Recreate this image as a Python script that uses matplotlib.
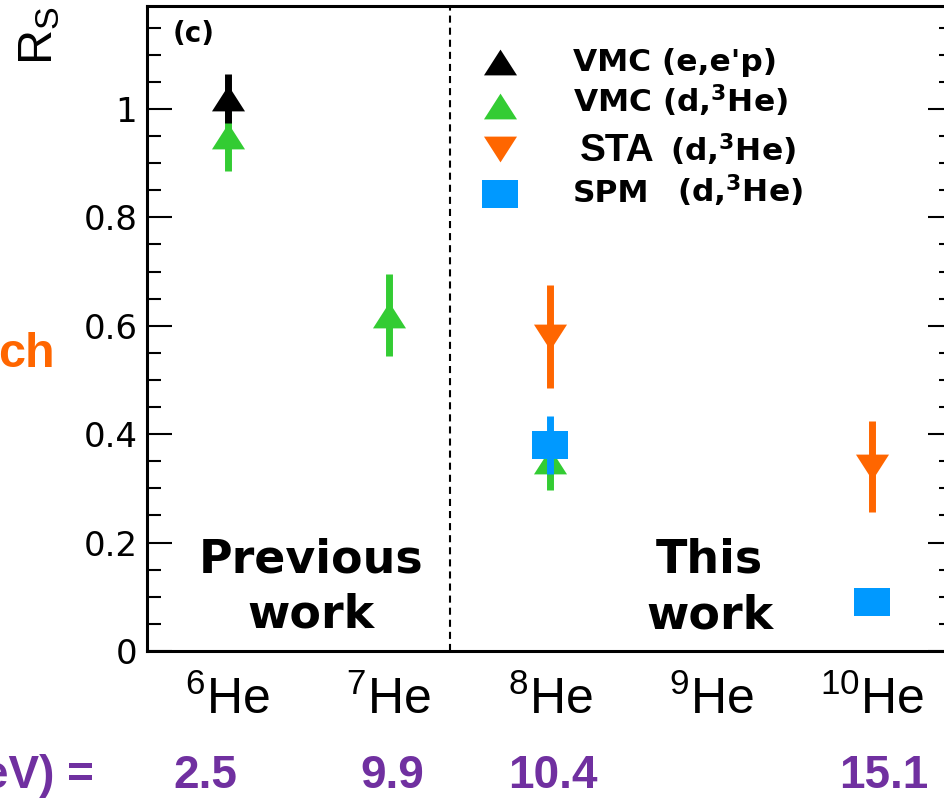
import matplotlib
matplotlib.use("Agg")
import matplotlib.pyplot as plt
import matplotlib.transforms as mtransforms
from matplotlib.ticker import MultipleLocator, FixedLocator

plt.rcParams["font.family"] = ["DejaVu Sans"]
plt.rcParams["mathtext.fontset"] = "custom"
plt.rcParams["mathtext.rm"] = "Liberation Sans"
plt.rcParams["mathtext.sf"] = "Liberation Sans"
plt.rcParams["mathtext.it"] = "Liberation Sans:italic"
plt.rcParams["mathtext.bf"] = "DejaVu Sans:bold"

# ---- data -------------------------------------------------------------
isotopes = [6, 7, 8, 9, 10]
isotope_labels = [r"$^{\mathrm{6}}\mathrm{He}$", r"$^{\mathrm{7}}\mathrm{He}$",
                  r"$^{\mathrm{8}}\mathrm{He}$", r"$^{\mathrm{9}}\mathrm{He}$",
                  r"$^{\mathrm{10}}\mathrm{He}$"]
separation_energy = ["2.5", "9.9", "10.4", "", "15.1"]

vmc_eep_A = [6]
vmc_eep_R = [1.02]
vmc_eep_err = [0.045]

vmc_d3he_A = [6, 7, 8]
vmc_d3he_R = [0.95, 0.62, 0.35]
vmc_d3he_err = [0.065, 0.075, 0.053]

sta_A = [8, 10]
sta_R = [0.58, 0.34]
sta_err = [0.095, 0.084]

spm_A = [8, 10]
spm_R = [0.38, 0.09]
spm_err = [0.053, 0.0]

# ---- styles -----------------------------------------------------------
BLACK = "#000000"
GREEN = "#33CC33"
ORANGE = "#FF6600"
BLUE = "#0099FF"
PURPLE = "#7030A0"

tri_up = [(0, 0.78), (-1, -0.78), (1, -0.78), (0, 0.78)]
tri_down = [(0, -0.78), (-1, 0.78), (1, 0.78), (0, -0.78)]
box = [(-1, -0.78), (1, -0.78), (1, 0.78), (-1, 0.78), (-1, -0.78)]

# drawn in this order: later series sit on top of earlier ones
series = [
    (vmc_d3he_A, vmc_d3he_R, vmc_d3he_err, GREEN, tri_up, 23.8),
    (vmc_eep_A, vmc_eep_R, vmc_eep_err, BLACK, tri_up, 23.8),
    (sta_A, sta_R, sta_err, ORANGE, tri_down, 23.8),
    (spm_A, spm_R, spm_err, BLUE, box, 26),
]

W, H = 945, 801
fig = plt.figure(figsize=(W / 100, H / 100), dpi=100)
ax = fig.add_axes([147 / W, 1 - 651 / H, (953 - 147) / W, (651 - 6) / H])

z = 3
for A, R, err, col, mk, ms in series:
    ax.errorbar(A, R, yerr=err, fmt="none", ecolor=col, elinewidth=5,
                capsize=0, zorder=z)
    ax.plot(A, R, ls="none", marker=mk, markersize=ms, color=col,
            markeredgewidth=0, zorder=z + 1)
    z += 2

ax.set_xlim(5.5, 10.5)
ax.set_ylim(0, 1.19)

ax.axvline(7.38, color="k", lw=1.5, ls=(0, (3.4, 2.4)), zorder=1)

# axes frame and ticks
for side in ["left", "right", "top", "bottom"]:
    ax.spines[side].set_linewidth(2.2)
ax.yaxis.set_major_locator(FixedLocator([0, 0.2, 0.4, 0.6, 0.8, 1.0]))
ax.yaxis.set_minor_locator(MultipleLocator(0.05))
ax.set_yticklabels(["0", "0.2", "0.4", "0.6", "0.8", "1"])
ax.tick_params(axis="y", which="both", direction="in", left=True, right=True,
               width=1.5, labelsize=24.5, pad=7)
ax.tick_params(axis="y", which="major", length=18)
ax.tick_params(axis="y", which="minor", length=10)
ax.set_xticks(isotopes)
ax.set_xticklabels(isotope_labels)
ax.tick_params(axis="x", which="both", length=0, labelsize=36, pad=18)

# panel tag
blend = mtransforms.blended_transform_factory(ax.transAxes, ax.transData)
ax.text(0.032, 1.123, "(c)", transform=blend,
        fontsize=20, fontweight="bold", ha="left", va="baseline")

# region captions
ax.text(6.52, 0.144, "Previous", fontsize=33, fontweight="bold", ha="center", va="baseline")
ax.text(6.52, 0.044, "work", fontsize=33, fontweight="bold", ha="center", va="baseline")
ax.text(8.99, 0.144, "This", fontsize=33, fontweight="bold", ha="center", va="baseline")
ax.text(8.99, 0.042, "work", fontsize=33, fontweight="bold", ha="center", va="baseline")

# legend
leg_marker_y = [1.087, 1.006, 0.926, 0.843]
leg_text_y = [1.070, 0.994, 0.904, 0.828]
leg_styles = [(BLACK, tri_up, 23.8), (GREEN, tri_up, 23.8),
              (ORANGE, tri_down, 23.8), (BLUE, box, 26)]
for (col, mk, ms), ym in zip(leg_styles, leg_marker_y):
    ax.plot([0.438], [ym], transform=blend, ls="none", marker=mk,
            markersize=ms, color=col, markeredgewidth=0, clip_on=False)
ax.text(0.5285, leg_text_y[0], "VMC (e,e'p)", transform=blend, fontsize=22.5,
        fontweight="bold", ha="left", va="baseline")
ax.text(0.5285, leg_text_y[1], r"VMC (d,$^{\mathbf{3}}$He)", transform=blend,
        fontsize=22.5, fontweight="bold", ha="left", va="baseline")
ax.text(0.537, leg_text_y[2], "STA", transform=blend, fontsize=28,
        fontweight="bold", family="Liberation Sans", ha="left", va="baseline")
ax.text(0.649, leg_text_y[2], r"(d,$^{\mathbf{3}}$He)", transform=blend,
        fontsize=22.5, fontweight="bold", ha="left", va="baseline")
ax.text(0.5285, leg_text_y[3], "SPM", transform=blend, fontsize=22.5,
        fontweight="bold", ha="left", va="baseline")
ax.text(0.6576, leg_text_y[3], r"(d,$^{\mathbf{3}}$He)", transform=blend,
        fontsize=22.5, fontweight="bold", ha="left", va="baseline")

# y axis title
fig.text(40 / W, 1 - 36 / H, r"R$_{\mathrm{S}}$", rotation=90, fontsize=35,
         family="Liberation Sans", ha="center", va="center")

# side caption and separation energies
fig.text(55 / W, 1 - 367 / H, "ch", color=ORANGE, fontsize=35,
         fontweight="bold", family="Liberation Sans", ha="right", va="baseline")
fig.text(94 / W, 1 - 788 / H, "eV) =", color=PURPLE, fontsize=33,
         fontweight="bold", family="Liberation Sans", ha="right", va="baseline")
energy_x = [5.86, 7.02, 8.02, 9.0, 10.07]
xfig = mtransforms.blended_transform_factory(ax.transData, fig.transFigure)
for xe, s in zip(energy_x, separation_energy):
    if s:
        ax.text(xe, 1 - 788 / H, s, transform=xfig, color=PURPLE, fontsize=33,
                fontweight="bold", family="Liberation Sans", ha="center",
                va="baseline", clip_on=False)

fig.savefig("out.png", dpi=100)
